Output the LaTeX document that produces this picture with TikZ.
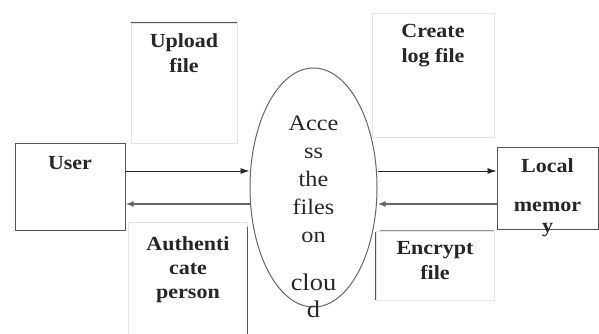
\documentclass[tikz,border=0pt]{standalone}
\usepackage{fontspec}
\setmainfont{Liberation Serif}[FakeStretch=1.1]
\usetikzlibrary{arrows.meta,shapes.geometric}

\definecolor{faint}{HTML}{E4E4E4}
\definecolor{edge}{HTML}{555555}
\definecolor{ink}{HTML}{262626}

\tikzset{
  entity/.style={draw=edge, line width=1pt, rectangle, inner sep=0pt},
  procbox/.style={draw=faint, line width=0.8pt, rectangle, inner sep=0pt},
  strongedge/.style={draw=edge, line width=1.2pt},
  midedge/.style={draw=black!40, line width=1.2pt},
  lbl/.style={inner sep=0pt, anchor=north, align=center, text=ink,
              font=\fontsize{20}{25}\selectfont\bfseries},
  flowout/.style={draw=ink, line width=0.9pt, -{Latex[length=9pt,width=6pt]}},
  flowback/.style={draw=black!60, line width=1.6pt, -{Latex[length=8pt,width=6pt]}},
}

\begin{document}
\begin{tikzpicture}[x=1pt, y=-1pt]
  \useasboundingbox (0,0) rectangle (599,334);

  % external entities
  \node[entity, minimum width=110pt, minimum height=87pt] (user) at (70,186.5) {};
  \node[entity, minimum width=101pt, minimum height=82pt] (local) at (547.5,188) {};

  % central process
  \node[draw=black!60, line width=1pt, ellipse, minimum width=127pt,
        minimum height=239pt, inner sep=0pt] (acc) at (313.5,187.5) {};

  % annotation boxes
  \node[procbox, minimum width=106pt, minimum height=120pt] (upbox) at (184,83) {};
  \node[procbox, minimum width=122pt, minimum height=124pt] (logbox) at (433,75) {};
  \node[procbox, minimum width=119pt, minimum height=124pt] (authbox) at (187.5,284) {};
  \node[procbox, minimum width=118pt, minimum height=69pt] (encbox) at (435,265.5) {};

  % darker edges of the annotation boxes
  \draw[strongedge] (upbox.north west) -- (upbox.north east);
  \draw[strongedge] ([yshift=-5pt]authbox.north east) -- (authbox.south east);
  \draw[strongedge] ([yshift=-1pt]encbox.north west) -- (encbox.south west);
  \draw[midedge] ([xshift=4pt]encbox.north west) -- (encbox.north east);

  % labels
  \node[lbl] (userlbl) at (70,156) {User};
  \node[lbl] (locallbl) at (547.5,158.5) {Local\\[14pt]memor\\[-4pt]y};
  \node[lbl] (uplbl) at (184,33.5) {Upload\\file};
  \node[lbl] (loglbl) at (433,24) {Create\\log file};
  \node[lbl] (authlbl) at (188,236) {Authenti\\[-1pt]cate\\[-1pt]person};
  \node[lbl] (enclbl) at (435,241) {Encrypt\\file};
  \node[lbl, font=\fontsize{22}{28}\selectfont] (acclbl) at (313.5,116)
    {Acce\\ss\\the\\files\\on\\[20pt]{\fontsize{24}{28}\selectfont clou}\\[-1pt]{\fontsize{24}{28}\selectfont d}};

  % data flows
  \coordinate (rowA) at (0,171);
  \coordinate (rowB) at (0,204);
  \draw[flowout] (user.east |- rowA) -- (acc.west |- rowA);
  \draw[flowback] (acc.west |- rowB) -- (user.east |- rowB);
  \draw[flowout] (acc.east |- rowA) -- (local.west |- rowA);
  \draw[flowback] (local.west |- rowB) -- (acc.east |- rowB);
\end{tikzpicture}
\end{document}
